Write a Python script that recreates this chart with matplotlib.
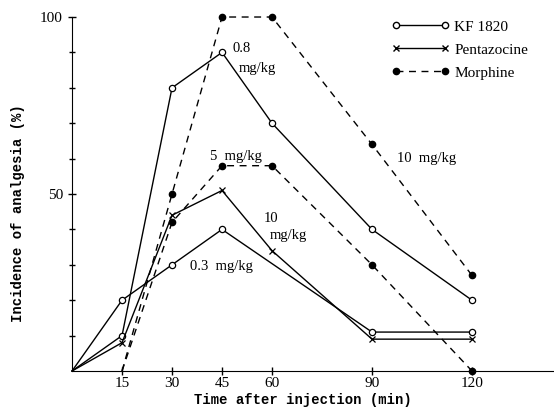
import matplotlib
matplotlib.use('Agg')
import matplotlib.pyplot as plt
from matplotlib.lines import Line2D

# time after injection (min)
kf_time = [0, 15, 30, 45, 60, 90, 120]
kf_08 = [0, 10, 80, 90, 70, 40, 20]
kf_03_time = [0, 15, 30, 45, 90, 120]
kf_03 = [0, 20, 30, 40, 11, 11]
penta_time = [0, 15, 30, 45, 60, 90, 120]
penta_10 = [0, 8, 44, 51, 34, 9, 9]
morph_time = [15, 30, 45, 60, 90, 120]
morph_10 = [0, 50, 100, 100, 64, 27]
morph_5 = [0, 42, 58, 58, 30, 0]

x_ticks = [15, 30, 45, 60, 90, 120]
serif = 'Liberation Serif'
mono = 'Liberation Mono'


def skip_first(xs):
    # the starting points are drawn without a marker
    return list(range(1, len(xs)))


fig = plt.figure(figsize=(5.54, 4.15), dpi=100)
ax = fig.add_axes([0.130, 0.106, 0.87, 0.853])

open_kw = dict(color='black', lw=1.0, marker='o', ms=4.5, mfc='white', mec='black', mew=0.9, clip_on=False)
ax.plot(kf_time, kf_08, markevery=skip_first(kf_time), **open_kw)
ax.plot(kf_03_time, kf_03, markevery=skip_first(kf_03_time), **open_kw)
ax.plot(penta_time, penta_10, color='black', lw=1.0, marker='x', ms=5, mew=0.9,
        markevery=skip_first(penta_time), clip_on=False)
dash_kw = dict(color='black', lw=1.0, ls=(0, (5, 4)), marker='o', ms=4.5, mfc='black', clip_on=False)
ax.plot(morph_time, morph_10, markevery=skip_first(morph_time), **dash_kw)
ax.plot(morph_time, morph_5, markevery=skip_first(morph_time), **dash_kw)

# dose annotations
ax.text(48, 90, '0.8', fontsize=10.5, family=serif)
ax.text(50, 84.5, 'mg/kg', fontsize=10.5, family=serif)
ax.text(41.5, 59.5, '5  mg/kg', fontsize=10.5, family=serif)
ax.text(57.5, 42, '10', fontsize=10.5, family=serif)
ax.text(59.2, 37.2, 'mg/kg', fontsize=10.5, family=serif)
ax.text(35.5, 28.5, '0.3  mg/kg', fontsize=10.5, family=serif)
ax.text(97.5, 59, '10  mg/kg', fontsize=10.5, family=serif)

ax.set_xlim(0, 144.6)
ax.set_ylim(0, 100)
ax.spines['top'].set_visible(False)
ax.spines['right'].set_visible(False)
ax.set_xticks(x_ticks)
ax.set_xticklabels([str(t) for t in x_ticks], family=serif, fontsize=11)
ax.set_yticks([50, 100])
ax.set_yticklabels(['50', '100'], family=serif, fontsize=11)
ax.set_yticks(range(10, 100, 10), minor=True)
ax.tick_params(axis='both', which='both', direction='inout', length=6, width=1.0)
ax.tick_params(axis='x', pad=1.5)
ax.tick_params(axis='y', which='minor', length=5)

ax.set_xlabel('Time after injection (min)', family=mono, fontweight='bold', fontsize=10, va='center')
ax.set_ylabel('Incidence of analgesia (%)', family=mono, fontweight='bold', fontsize=10)
ax.xaxis.set_label_coords((303 - 72) / 482, -(400 - 371) / 354)
ax.yaxis.set_label_coords(-0.097, (371 - 213) / 354)

handles = [
    Line2D([], [], color='black', lw=1.0, marker='o', ms=4.5, mfc='white', mec='black'),
    Line2D([], [], color='black', lw=1.0, marker='x', ms=5),
    Line2D([], [], color='black', lw=1.0, ls=(0, (5, 4)), marker='o', ms=4.5, mfc='black'),
]
ax.legend(handles, ['KF 1820', 'Pentazocine', 'Morphine'], numpoints=2, handlelength=3.8,
          loc='upper left', bbox_to_anchor=(0.635, 1.03), frameon=False,
          prop={'family': serif, 'size': 11}, labelspacing=0.6, handletextpad=0.3)

fig.savefig('out.png', dpi=100)
